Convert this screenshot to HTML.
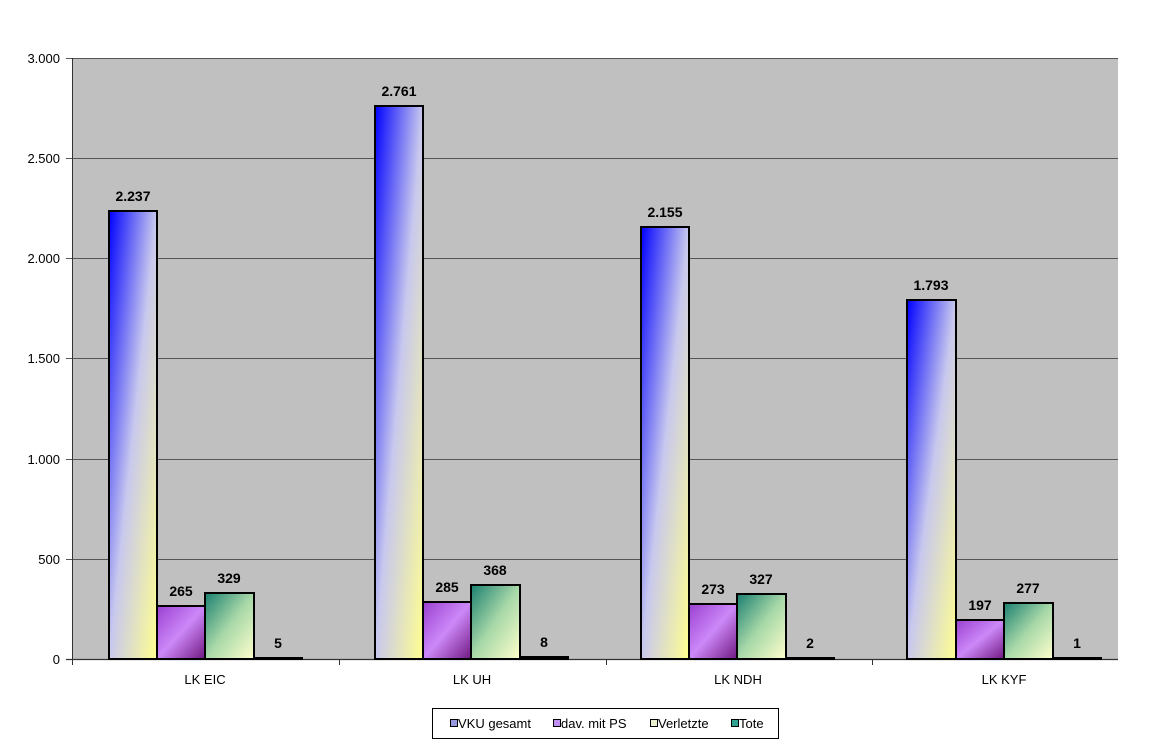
<!DOCTYPE html>
<html><head><meta charset="utf-8"><style>
html,body{margin:0;padding:0;background:#fff;}
svg{display:block;font-family:"Liberation Sans",Arial,sans-serif;}
</style></head><body>
<svg width="1173" height="755" viewBox="0 0 1173 755" xmlns="http://www.w3.org/2000/svg">
<defs>
<linearGradient id="gA" x1="0" y1="0" x2="1" y2="1">
<stop offset="0" stop-color="#0000ff"/><stop offset="0.5" stop-color="#c8c8ee"/><stop offset="1" stop-color="#ffff90"/>
</linearGradient>
<linearGradient id="gB" x1="0" y1="0" x2="1" y2="1">
<stop offset="0" stop-color="#9a40d0"/><stop offset="0.5" stop-color="#cc88f8"/><stop offset="1" stop-color="#701880"/>
</linearGradient>
<linearGradient id="gC" x1="0" y1="0" x2="1" y2="1">
<stop offset="0" stop-color="#1a8070"/><stop offset="0.5" stop-color="#a8d8a8"/><stop offset="1" stop-color="#ffffcc"/>
</linearGradient>
</defs>
<rect x="72" y="58" width="1046" height="601" fill="#c0c0c0"/>
<g stroke="#555" stroke-width="1">
<line x1="66" y1="58.5" x2="1118" y2="58.5"/>
<line x1="66" y1="158.5" x2="1118" y2="158.5"/>
<line x1="66" y1="258.5" x2="1118" y2="258.5"/>
<line x1="66" y1="358.5" x2="1118" y2="358.5"/>
<line x1="66" y1="459.5" x2="1118" y2="459.5"/>
<line x1="66" y1="559.5" x2="1118" y2="559.5"/>
</g>
<line x1="72.5" y1="58" x2="72.5" y2="660" stroke="#333" stroke-width="1"/>
<line x1="66" y1="659.5" x2="1118" y2="659.5" stroke="#333" stroke-width="1.2"/>
<g stroke="#333"><line x1="339.5" y1="659" x2="339.5" y2="665"/><line x1="606.5" y1="659" x2="606.5" y2="665"/><line x1="872.5" y1="659" x2="872.5" y2="665"/><line x1="72.5" y1="659" x2="72.5" y2="665"/></g>
<g font-size="13" fill="#000" text-anchor="end">
<text x="60" y="63">3.000</text><text x="60" y="163">2.500</text><text x="60" y="263">2.000</text>
<text x="60" y="363">1.500</text><text x="60" y="464">1.000</text><text x="60" y="564">500</text><text x="60" y="664">0</text>
</g>
<g stroke="#000" stroke-width="2">
<rect x="109" y="211" width="48" height="448" fill="url(#gA)"/>
<rect x="157" y="606" width="48" height="53" fill="url(#gB)"/>
<rect x="205" y="593" width="49" height="66" fill="url(#gC)"/>
<rect x="254" y="658" width="48" height="1" fill="#000"/>
<rect x="375" y="106" width="48" height="553" fill="url(#gA)"/>
<rect x="423" y="602" width="48" height="57" fill="url(#gB)"/>
<rect x="471" y="585" width="49" height="74" fill="url(#gC)"/>
<rect x="520" y="657" width="48" height="2" fill="#000"/>
<rect x="641" y="227" width="48" height="432" fill="url(#gA)"/>
<rect x="689" y="604" width="48" height="55" fill="url(#gB)"/>
<rect x="737" y="594" width="49" height="65" fill="url(#gC)"/>
<rect x="786" y="658" width="48" height="1" fill="#000"/>
<rect x="907" y="300" width="49" height="359" fill="url(#gA)"/>
<rect x="956" y="620" width="48" height="39" fill="url(#gB)"/>
<rect x="1004" y="603" width="49" height="56" fill="url(#gC)"/>
<rect x="1053" y="658" width="48" height="1" fill="#000"/>
</g>
<g font-size="14" font-weight="bold" fill="#000" text-anchor="middle">
<text x="133" y="201">2.237</text><text x="181" y="596">265</text><text x="229" y="583">329</text><text x="278" y="648">5</text>
<text x="399" y="96">2.761</text><text x="447" y="592">285</text><text x="495" y="575">368</text><text x="544" y="647">8</text>
<text x="665" y="217">2.155</text><text x="713" y="594">273</text><text x="761" y="584">327</text><text x="810" y="648">2</text>
<text x="931" y="290">1.793</text><text x="980" y="610">197</text><text x="1028" y="593">277</text><text x="1077" y="648">1</text>
</g>
<g font-size="13" fill="#000" text-anchor="middle">
<text x="205" y="684">LK EIC</text><text x="472" y="684">LK UH</text><text x="738" y="684">LK NDH</text><text x="1004" y="684">LK KYF</text>
</g>
<rect x="432.5" y="708.5" width="346" height="30" fill="#fff" stroke="#000"/>
<g stroke="#000" stroke-width="1">
<rect x="450.5" y="719.5" width="7" height="7" fill="#9898e0"/>
<rect x="553.5" y="719.5" width="7" height="7" fill="#c090f0"/>
<rect x="650.5" y="719.5" width="7" height="7" fill="#e8f0d0"/>
<rect x="731.5" y="719.5" width="7" height="7" fill="#30a090"/>
</g>
<g font-size="13" fill="#000">
<text x="458" y="728">VKU gesamt</text><text x="561" y="728">dav. mit PS</text><text x="658" y="728">Verletzte</text><text x="739" y="728">Tote</text>
</g>
</svg>
</body></html>
